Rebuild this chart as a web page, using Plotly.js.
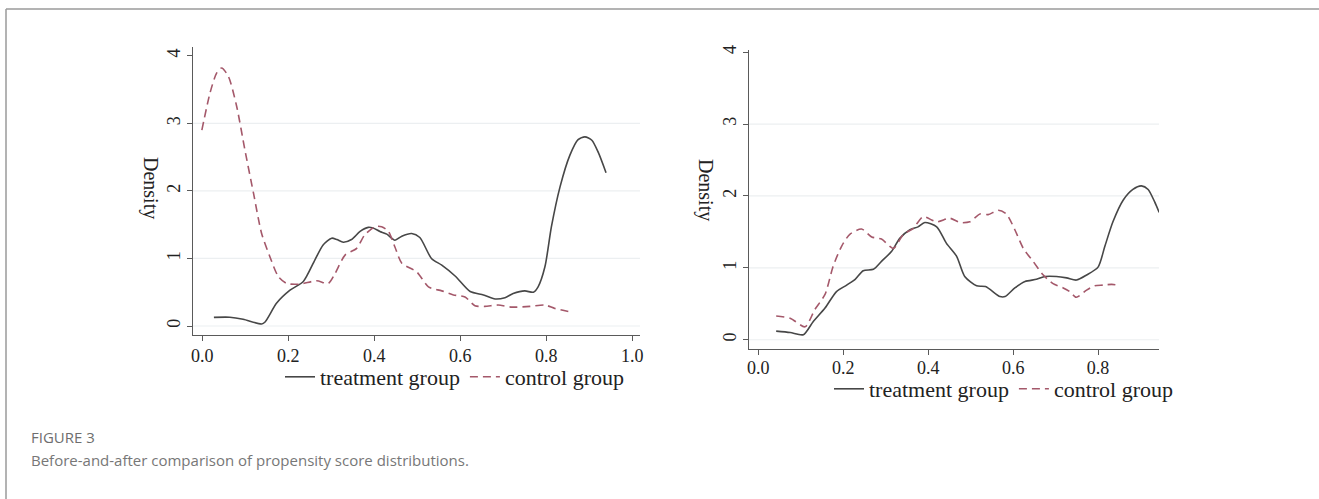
<!DOCTYPE html>
<html>
<head>
<meta charset="utf-8">
<script src="https://cdn.plot.ly/plotly-3.0.1.min.js"></script>
<style>
html,body{margin:0;padding:0;background:#fff;}
#chart{width:1319px;height:499px;}
</style>
</head>
<body>
<div id="chart"></div>
<script>
// ---- Data ----
const seriesNames = ["treatment group", "control group"];

// Before matching (left panel)
const beforeTreatX = [0.027,0.064,0.095,0.138,0.146,0.173,0.204,0.235,0.262,0.281,0.301,0.313,0.328,0.347,0.367,0.386,0.397,0.413,0.429,0.448,0.464,0.487,0.506,0.533,0.557,0.588,0.623,0.654,0.681,0.704,0.723,0.750,0.770,0.781,0.797,0.812,0.832,0.855,0.874,0.890,0.906,0.921,0.939];
const beforeTreatY = [0.128,0.13,0.10,0.03,0.06,0.34,0.53,0.66,0.98,1.20,1.30,1.28,1.24,1.28,1.40,1.46,1.45,1.40,1.36,1.27,1.33,1.37,1.31,1.00,0.90,0.74,0.51,0.46,0.40,0.42,0.48,0.52,0.50,0.58,0.88,1.47,2.06,2.53,2.76,2.80,2.75,2.57,2.27];
const beforeCtrlX = [-0.001,0.018,0.033,0.045,0.061,0.080,0.099,0.119,0.138,0.157,0.177,0.196,0.227,0.266,0.293,0.309,0.332,0.359,0.378,0.402,0.417,0.433,0.448,0.464,0.499,0.526,0.557,0.584,0.611,0.634,0.657,0.688,0.720,0.762,0.797,0.820,0.854];
const beforeCtrlY = [2.90,3.45,3.74,3.82,3.69,3.25,2.61,1.97,1.37,1.03,0.73,0.63,0.62,0.67,0.63,0.78,1.05,1.15,1.35,1.47,1.47,1.40,1.17,0.93,0.80,0.58,0.52,0.46,0.43,0.30,0.29,0.31,0.28,0.29,0.31,0.26,0.21];

// After matching (right panel)
const afterTreatX = [0.042,0.075,0.106,0.129,0.157,0.184,0.208,0.228,0.247,0.271,0.290,0.314,0.333,0.357,0.376,0.392,0.420,0.443,0.467,0.486,0.514,0.535,0.569,0.581,0.604,0.628,0.655,0.675,0.702,0.726,0.749,0.773,0.800,0.816,0.835,0.859,0.882,0.902,0.918,0.933,0.944];
const afterTreatY = [0.12,0.10,0.07,0.25,0.44,0.67,0.76,0.84,0.96,0.98,1.09,1.23,1.41,1.53,1.57,1.63,1.57,1.34,1.16,0.88,0.75,0.74,0.60,0.60,0.72,0.81,0.84,0.88,0.88,0.86,0.83,0.90,1.01,1.30,1.64,1.94,2.09,2.14,2.09,1.92,1.77];
const afterCtrlX = [0.042,0.075,0.110,0.133,0.157,0.176,0.196,0.216,0.243,0.267,0.290,0.318,0.341,0.365,0.388,0.420,0.451,0.475,0.498,0.522,0.541,0.565,0.584,0.604,0.624,0.647,0.671,0.694,0.718,0.733,0.749,0.773,0.792,0.812,0.832,0.847];
const afterCtrlY = [0.33,0.30,0.18,0.42,0.63,1.02,1.30,1.47,1.54,1.43,1.40,1.27,1.46,1.55,1.71,1.64,1.69,1.63,1.64,1.75,1.74,1.80,1.75,1.53,1.27,1.09,0.90,0.78,0.72,0.67,0.59,0.69,0.75,0.76,0.77,0.76];

// Tick labels
const yTicks = [0, 1, 2, 3, 4];
const xTicksLeft = [0.0, 0.2, 0.4, 0.6, 0.8, 1.0];
const xTicksRight = [0.0, 0.2, 0.4, 0.6, 0.8];
const yTitle = "Density";
const figLabel = "FIGURE 3";
const caption = "Before-and-after comparison of propensity score distributions.";

// ---- Styles ----
const W = 1319, H = 499;
const serif = "Liberation Serif, Times New Roman, serif";
const treatColor = "#474747";
const ctrlColor = "#a4586a";
const gridColor = "#eceff1";
const axisColor = "#5a5a5a";

function lineTrace(x, y, name, isCtrl, xa, ya, lg) {
  return {
    x: x, y: y, name: name, type: "scatter", mode: "lines",
    xaxis: xa, yaxis: ya, legend: lg, showlegend: true,
    line: {color: isCtrl ? ctrlColor : treatColor, width: 1.6,
           dash: isCtrl ? "8px,5px" : "solid", shape: "spline", smoothing: 0.7},
    hoverinfo: "skip"
  };
}

const data = [
  lineTrace(beforeTreatX, beforeTreatY, seriesNames[0], false, "x", "y", "legend"),
  lineTrace(beforeCtrlX, beforeCtrlY, seriesNames[1], true, "x", "y", "legend"),
  lineTrace(afterTreatX, afterTreatY, seriesNames[0], false, "x2", "y2", "legend2"),
  lineTrace(afterCtrlX, afterCtrlY, seriesNames[1], true, "x2", "y2", "legend2")
];

function px2x(p) { return p / W; }
function px2y(p) { return 1 - p / H; }

const tickFont = {family: serif, size: 18, color: "#222"};

function xAxis(domain, range, ticks, anchor, standoff) {
  return {
    domain: domain, range: range, anchor: anchor,
    tickvals: ticks, ticktext: ticks.map(v => v.toFixed(1)),
    showline: true, linecolor: axisColor, linewidth: 1.2,
    ticks: "outside", ticklen: 5, tickcolor: axisColor, tickwidth: 1,
    ticklabelstandoff: standoff,
    showgrid: false, zeroline: false, tickfont: tickFont, fixedrange: true
  };
}
function yAxis(domain, range, anchor) {
  return {
    domain: domain, range: range, anchor: anchor,
    tickvals: yTicks, ticktext: yTicks.map(String), tickangle: -90,
    showline: true, linecolor: axisColor, linewidth: 1.2,
    ticks: "outside", ticklen: 5, tickcolor: axisColor, tickwidth: 1,
    showgrid: false, zeroline: false, tickfont: tickFont, fixedrange: true
  };
}

const shapes = [];
// grid lines (0..3) for both panels
yTicks.slice(0, 4).forEach(v => {
  shapes.push({type: "line", xref: "x domain", yref: "y", x0: 0, x1: 1, y0: v, y1: v,
               line: {color: gridColor, width: 1.2}, layer: "below"});
  shapes.push({type: "line", xref: "x2 domain", yref: "y2", x0: 0, x1: 1, y0: v, y1: v,
               line: {color: gridColor, width: 1.2}, layer: "below"});
});
// page frame
shapes.push({type: "line", xref: "paper", yref: "paper", x0: px2x(6), x1: 1, y0: px2y(9), y1: px2y(9),
             line: {color: "#9a9a9a", width: 1.5}});
shapes.push({type: "line", xref: "paper", yref: "paper", x0: px2x(6), x1: px2x(6), y0: px2y(9), y1: 0,
             line: {color: "#9a9a9a", width: 1.5}});

const capFont = "Open Sans, Noto Sans, sans-serif";
const annotations = [
  {text: yTitle, textangle: 90, xref: "paper", yref: "paper", x: px2x(150), y: px2y(188),
   xanchor: "center", yanchor: "middle", showarrow: false, font: {family: serif, size: 20, color: "#222"}},
  {text: yTitle, textangle: 90, xref: "paper", yref: "paper", x: px2x(705), y: px2y(190),
   xanchor: "center", yanchor: "middle", showarrow: false, font: {family: serif, size: 20, color: "#222"}},
  {text: figLabel, xref: "paper", yref: "paper", x: px2x(29), y: px2y(437),
   xanchor: "left", yanchor: "middle", showarrow: false,
   font: {family: capFont, size: 15, color: "#6e6e6e"}},
  {text: caption, xref: "paper", yref: "paper", x: px2x(29), y: px2y(460),
   xanchor: "left", yanchor: "middle", showarrow: false,
   font: {family: capFont, size: 15, color: "#777"}}
];

const legendFont = {family: serif, size: 22, color: "#222"};
const layout = {
  width: W, height: H,
  margin: {l: 0, r: 0, t: 0, b: 0},
  paper_bgcolor: "#fff", plot_bgcolor: "#fff",
  xaxis: xAxis([px2x(193), px2x(640)], [-0.0216, 1.018], xTicksLeft, "y", -1),
  yaxis: yAxis([px2y(335), px2y(47)], [-0.133, 4.13], "x"),
  xaxis2: xAxis([px2x(749), px2x(1159)], [-0.022, 0.9435], xTicksRight, "y2", -3),
  yaxis2: yAxis([px2y(349), px2y(50)], [-0.129, 4.03], "x2"),
  legend: {orientation: "h", x: px2x(455), y: px2y(377), xanchor: "center", yanchor: "middle",
           font: legendFont, bgcolor: "rgba(0,0,0,0)", tracegroupgap: 0},
  legend2: {orientation: "h", x: px2x(1004), y: px2y(389), xanchor: "center", yanchor: "middle",
           font: legendFont, bgcolor: "rgba(0,0,0,0)", tracegroupgap: 0},
  shapes: shapes,
  annotations: annotations,
  showlegend: true
};

Plotly.newPlot("chart", data, layout, {displayModeBar: false, staticPlot: true});
</script>
</body>
</html>
